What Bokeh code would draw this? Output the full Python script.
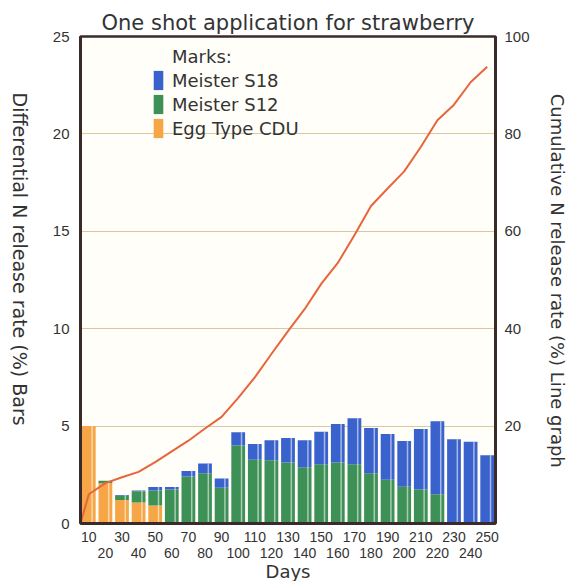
import math
from bokeh.plotting import figure
from bokeh.layouts import row
from bokeh.models import Range1d, LinearAxis, FixedTicker, Legend, LegendItem, ColumnDataSource
from bokeh.core.properties import value
from bokeh.transform import dodge
from bokeh.embed import file_html
from bokeh.resources import INLINE

# ---- data ----
days = [10, 20, 30, 40, 50, 60, 70, 80, 90, 100, 110, 120, 130,
        140, 150, 160, 170, 180, 190, 200, 210, 220, 230, 240, 250]
egg_type_cdu = [5.0, 2.07, 1.2, 1.08, 0.92, 0, 0, 0, 0, 0, 0, 0, 0,
                0, 0, 0, 0, 0, 0, 0, 0, 0, 0, 0, 0]
meister_s12 = [0, 0.13, 0.22, 0.57, 0.78, 1.74, 2.41, 2.58, 1.84, 4.0, 3.27, 3.25, 3.13,
               2.89, 3.04, 3.13, 3.04, 2.58, 2.24, 1.89, 1.75, 1.50, 0, 0, 0]
meister_s18 = [0, 0, 0.04, 0.05, 0.18, 0.14, 0.29, 0.5, 0.47, 0.68, 0.81, 1.03, 1.26,
               1.39, 1.67, 1.98, 2.36, 2.32, 2.35, 2.34, 3.10, 3.75, 4.33, 4.20, 3.51]

cum_days = [5, 10, 20, 30, 40, 50, 60, 70, 80, 90, 100, 110, 120, 130,
            140, 150, 160, 170, 180, 190, 200, 210, 220, 230, 240, 250]
cumulative = [0, 6.0, 8.3, 9.5, 10.6, 12.6, 14.8, 17.0, 19.5, 21.9, 25.8, 30.0, 34.8, 39.5,
              44.0, 49.2, 53.5, 59.2, 65.2, 68.8, 72.3, 77.3, 82.8, 86.0, 90.6, 93.8]

left_ticks = [0, 5, 10, 15, 20, 25]
right_ticks = [20, 40, 60, 80, 100]
grid_ticks = [5, 10, 15, 20]
x_ticks_row1 = [10, 30, 50, 70, 90, 110, 130, 150, 170, 190, 210, 230, 250]
x_ticks_row2 = [20, 40, 60, 80, 100, 120, 140, 160, 180, 200, 220, 240]

title_text = "One shot application for strawberry"
left_title = "Differential N release rate (%) Bars"
right_title = "Cumulative N release rate (%) Line graph"

TEXT_FONT = "DejaVu Sans"
NUM_FONT = "Liberation Sans"
TEXT_COLOR = "#333333"
AXIS_COLOR = "#3a2a2a"
ORANGE = "#F6A646"
GREEN = "#3E9156"
BLUE = "#3A62CD"
LINE_COLOR = "#E8653C"

H = 573
LEFT_W = 34
RIGHT_W = 22

totals = [a + b + c for a, b, c in zip(egg_type_cdu, meister_s12, meister_s18)]
src = ColumnDataSource(dict(day=days, cdu=egg_type_cdu, s12=meister_s12, s18=meister_s18, total=totals))

p = figure(frame_width=415, frame_height=487,
           x_range=Range1d(5, 255), y_range=Range1d(0, 25),
           output_backend="svg", toolbar_location=None,
           min_border_left=80 - LEFT_W, min_border_right=50, min_border_top=36, min_border_bottom=0,
           background_fill_color="#FFFEF8", border_fill_color="white")
p.extra_y_ranges = {"cum": Range1d(0, 100)}

p.title.text = title_text
p.title.align = "center"
p.title.text_font = TEXT_FONT
p.title.text_font_size = "21px"
p.title.text_font_style = "normal"
p.title.text_color = TEXT_COLOR
p.title.standoff = 3

p.outline_line_color = AXIS_COLOR
p.outline_line_width = 2.5

p.xgrid.visible = False
p.ygrid.ticker = FixedTicker(ticks=grid_ticks)
p.ygrid.grid_line_color = "#D8C9A4"
p.ygrid.grid_line_width = 1


def style_axis(ax, font_size="14px"):
    ax.major_tick_line_color = None
    ax.minor_tick_line_color = None
    ax.major_tick_out = 0
    ax.major_tick_in = 0
    ax.minor_tick_out = 0
    ax.minor_tick_in = 0
    ax.major_label_text_font = NUM_FONT
    ax.major_label_text_font_size = font_size
    ax.major_label_text_color = TEXT_COLOR
    ax.axis_label_text_font = TEXT_FONT
    ax.axis_label_text_font_size = "16px"
    ax.axis_label_text_font_style = "normal"
    ax.axis_label_text_color = TEXT_COLOR
    ax.axis_line_color = AXIS_COLOR
    ax.axis_line_width = 3


# left axis
yl = p.yaxis[0]
style_axis(yl, "15px")
yl.ticker = FixedTicker(ticks=left_ticks)
yl.major_label_standoff = 11

# right axis
yr = LinearAxis(y_range_name="cum")
style_axis(yr, "15px")
yr.ticker = FixedTicker(ticks=right_ticks)
yr.major_label_standoff = 9
p.add_layout(yr, "right")

# bottom axes (two staggered rows)
xa = p.xaxis[0]
style_axis(xa)
xa.ticker = FixedTicker(ticks=x_ticks_row1)
xa.major_label_standoff = 8

xb = LinearAxis()
style_axis(xb)
xb.ticker = FixedTicker(ticks=x_ticks_row2)
xb.axis_line_color = None
xb.major_label_standoff = 3
xb.axis_label = "Days"
xb.axis_label_text_font_size = "18px"
xb.axis_label_standoff = 0
p.add_layout(xb, "below")

# bars
bars = p.vbar_stack(["cdu", "s12", "s18"], x="day", width=8.3, source=src,
                    fill_color=[ORANGE, GREEN, BLUE], line_color=None)
# glossy stripe on each bar
p.vbar(x=dodge("day", 2.0, range=p.x_range), top="total", width=0.9, source=src,
       fill_color="white", fill_alpha=0.55, line_color=None)

# cumulative line
p.line(cum_days, cumulative, y_range_name="cum", line_color=LINE_COLOR, line_width=2)

# legend
dummy = p.vbar(x=[], top=[], width=1, fill_alpha=0, line_alpha=0)
legend = Legend(items=[
    LegendItem(label="Marks:", renderers=[dummy]),
    LegendItem(label="Meister S18", renderers=[bars[2]]),
    LegendItem(label="Meister S12", renderers=[bars[1]]),
    LegendItem(label="Egg Type CDU", renderers=[bars[0]]),
], location=(72, 383))
legend.glyph_width = 12
legend.glyph_height = 24
legend.label_height = 24
legend.spacing = 0
legend.padding = 0
legend.margin = 0
legend.label_standoff = 8
legend.label_text_font = TEXT_FONT
legend.label_text_font_size = "18px"
legend.label_text_color = TEXT_COLOR
legend.background_fill_alpha = 0
legend.border_line_color = None
p.add_layout(legend, "center")


# side strips carrying the vertical axis titles (reading top to bottom)
def side_title(width, text, cx, cy, size):
    f = figure(width=width, height=H, x_range=Range1d(0, width), y_range=Range1d(0, H),
               output_backend="svg", toolbar_location=None,
               x_axis_location=None, y_axis_location=None,
               min_border=0, outline_line_color=None, border_fill_color="white",
               background_fill_color="white")
    f.xgrid.visible = False
    f.ygrid.visible = False
    f.text(x=[cx], y=[H - cy], text=[text], angle=-math.pi / 2,
           text_align="center", text_baseline="middle",
           text_font=value(TEXT_FONT), text_font_size=value(size), text_color=TEXT_COLOR)
    return f


left_fig = side_title(LEFT_W, left_title, 19, 268, "19px")
right_fig = side_title(RIGHT_W, right_title, 12, 294, "18px")

layout = row(left_fig, p, right_fig)

open("out.html", "w").write(file_html(layout, INLINE))
